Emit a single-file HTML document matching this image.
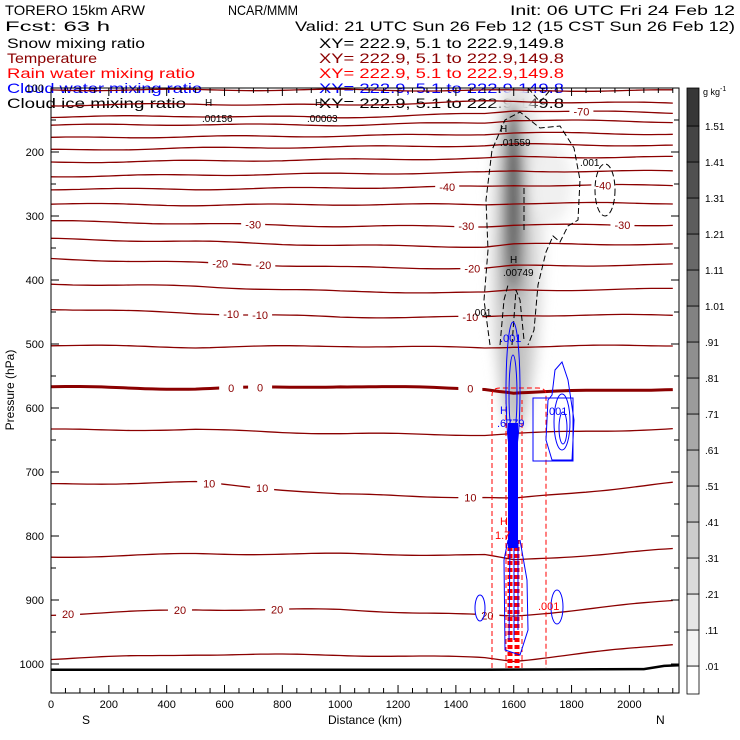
<!DOCTYPE html>
<html><head><meta charset="utf-8">
<style>
body{margin:0;background:#fff;width:740px;height:740px;overflow:hidden}
svg{display:block}
text{font-family:"Liberation Sans",sans-serif}
.h{font-size:14px}
</style></head>
<body>
<svg id="chart" width="740" height="740" viewBox="0 0 740 740" xmlns="http://www.w3.org/2000/svg">
<defs>
<filter id="blur6" x="-50%" y="-50%" width="200%" height="200%"><feGaussianBlur stdDeviation="6"/></filter>
<clipPath id="plotclip"><rect x="51" y="88" width="628" height="605"/></clipPath>
</defs>
<g>
<text class="h" x="5" y="15" textLength="140" lengthAdjust="spacingAndGlyphs">TORERO  15km ARW</text>
<text class="h" x="228" y="15" textLength="70" lengthAdjust="spacingAndGlyphs">NCAR/MMM</text>
<text class="h" x="510" y="15" textLength="225" lengthAdjust="spacingAndGlyphs">Init: 06 UTC Fri 24 Feb 12</text>
<text class="h" x="5" y="31" textLength="105" lengthAdjust="spacingAndGlyphs">Fcst:    63 h</text>
<text class="h" x="295" y="31" textLength="440" lengthAdjust="spacingAndGlyphs">Valid: 21 UTC Sun 26 Feb 12 (15 CST Sun 26 Feb 12)</text>
<text class="h" x="7" y="48" textLength="138" lengthAdjust="spacingAndGlyphs" fill="#000">Snow mixing ratio</text>
<text class="h" x="319" y="48" textLength="245" lengthAdjust="spacingAndGlyphs" fill="#000">XY= 222.9,   5.1 to 222.9,149.8</text>
<text class="h" x="7" y="63" textLength="90" lengthAdjust="spacingAndGlyphs" fill="#8b0000">Temperature</text>
<text class="h" x="319" y="63" textLength="245" lengthAdjust="spacingAndGlyphs" fill="#8b0000">XY= 222.9,   5.1 to 222.9,149.8</text>
<text class="h" x="7" y="78" textLength="188" lengthAdjust="spacingAndGlyphs" fill="#ff0000">Rain water mixing ratio</text>
<text class="h" x="319" y="78" textLength="245" lengthAdjust="spacingAndGlyphs" fill="#ff0000">XY= 222.9,   5.1 to 222.9,149.8</text>
<text class="h" x="7" y="93" textLength="195" lengthAdjust="spacingAndGlyphs" fill="#0000ff">Cloud water mixing ratio</text>
<text class="h" x="319" y="93" textLength="245" lengthAdjust="spacingAndGlyphs" fill="#0000ff">XY= 222.9,   5.1 to 222.9,149.8</text>
<text class="h" x="7" y="108" textLength="179" lengthAdjust="spacingAndGlyphs" fill="#000">Cloud ice mixing ratio</text>
<text class="h" x="319" y="108" textLength="245" lengthAdjust="spacingAndGlyphs" fill="#000">XY= 222.9,   5.1 to 222.9,149.8</text>
</g>
<g id="plot" clip-path="url(#plotclip)"></g>
<g id="axes"></g>
<g id="cbar"></g>
</svg>
<script>
const NS="http://www.w3.org/2000/svg";
// ---- data ----
const distSamples=[0,500,1000,1500,1600,2170];
const tempLevels=[-80,-75,-70,-65,-60,-55,-50,-45,-40,-35,-30,-25,-20,-15,-10,-5,0,5,10,15,20,25];
const tempPres=[
[103,103,103,104,104,104],
[127,125,127,121,121,124],
[145,144,146,140,135,139],
[158,157,158,154,150,153],
[178,176,175,172,170,172],
[197,194,192,190,188,190],
[216,214,212,210,208,208],
[238,236,234,232,230,230],
[258,258,256,254,252,252],
[281,283,282,282,280,280],
[308,312,316,316,314,314],
[336,340,346,348,344,344],
[367,373,380,382,378,376],
[406,410,418,420,416,414],
[445,452,458,458,455,455],
[502,505,503,506,504,502],
[567,570,566,570,576,570],
[634,634,640,642,640,632],
[719,716,735,740,742,716],
[833,828,828,830,838,820],
[923,915,915,924,925,900],
[992,985,986,990,995,968]];
const tempLabels=[[-70,1834],[-40,1370],[-40,1910],[-30,699],[-30,1436],[-30,1976],[-20,585],[-20,734],[-20,1457],[-10,623],[-10,723],[-10,1450],[0,623],[0,723],[0,1450],[10,547],[10,730],[10,1450],[20,59],[20,446],[20,782],[20,1509]];
const xTicks=[0,200,400,600,800,1000,1200,1400,1600,1800,2000];
const yTicks=[200,300,400,500,600,700,800,900,1000];
const cbarLevels=[".01",".11",".21",".31",".41",".51",".61",".71",".81",".91","1.01","1.11","1.21","1.31","1.41","1.51"];
const groundDist=[0,1500,2050,2120,2170];
const groundPres=[1009,1009,1008,1003,1002];
// ---- scales ----
const X=km=>51+km*0.2892;
const Y=p=>88+(p-100)*0.64;
function el(tag,attrs,parent){const e=document.createElementNS(NS,tag);for(const k in attrs)e.setAttribute(k,attrs[k]);parent.appendChild(e);return e;}
const plot=document.getElementById('plot'),axes=document.getElementById('axes'),cbar=document.getElementById('cbar');
function interp(arr,km){for(let i=0;i<distSamples.length-1;i++){if(km<=distSamples[i+1]){const t=(km-distSamples[i])/(distSamples[i+1]-distSamples[i]);return arr[i]+t*(arr[i+1]-arr[i]);}}return arr[arr.length-1];}

// snow plume (gray)
const plume=el('g',{filter:'url(#blur6)'},plot);


el('ellipse',{cx:X(1610),cy:Y(340),rx:28,ry:175,fill:'#e6e6e6'},plume);
el('ellipse',{cx:X(1605),cy:Y(440),rx:20,ry:130,fill:'#d0d0d0'},plume);
el('ellipse',{cx:X(1598),cy:Y(300),rx:13,ry:115,fill:'#9a9a9a'},plume);
el('ellipse',{cx:X(1598),cy:Y(270),rx:6,ry:90,fill:'#555'},plume);
el('ellipse',{cx:X(1602),cy:Y(520),rx:10,ry:70,fill:'#bdbdbd'},plume);
el('ellipse',{cx:X(1730),cy:Y(250),rx:20,ry:40,fill:'#f0f0f0'},plume);

// temperature contours
tempLevels.forEach((lv,i)=>{
  let d='';
  for(let km=0;km<=2172;km+=25){const y=Y(interp(tempPres[i],km)+1.2*Math.sin(km/90+i));d+=(km?'L':'M')+X(km).toFixed(1)+','+y.toFixed(1);}
  const pth=el('path',{d:d,fill:'none',stroke:'#8b0000','stroke-width':lv===0?3:1.3},plot);
  
  
});
tempLabels.forEach(([lv,km])=>{
  const i=tempLevels.indexOf(lv);const y=Y(interp(tempPres[i],km));
  el('rect',{x:X(km)-12,y:y-6,width:24,height:12,fill:'#fff'},plot);
  const t=el('text',{x:X(km),y:y+4,'text-anchor':'middle','font-size':11,fill:'#8b0000'},plot);
  t.textContent=lv;
  
  
});

// cloud ice dashed contours
const ice=el('g',{fill:'none',stroke:'#000','stroke-width':1,'stroke-dasharray':'6,3'},plot);


el('path',{d:'M490,345 L484,300 L488,250 L486,200 L492,150 L505,120 L520,112 L540,128 L560,126 L574,148 L580,180 L578,220 L568,226 L560,242 L553,236 L546,252 L538,285 L534,330 L528,345'},ice);
el('path',{d:'M500,345 L504,300 L508,285 M512,345 L516,290 L520,300 L524,340'},ice);
el('path',{d:'M528,88 L540,102 L552,88'},ice);
el('ellipse',{cx:605,cy:190,rx:10,ry:26},ice);
el('line',{x1:524,y1:188,x2:524,y2:230},ice);
[['H',500,132],['.01559',500,146],['H',510,263],['.00749',503,276],['.001',472,316],['.001',580,166],['H',205,106],['.00156',202,122],['H',315,106],['.00003',307,122]].forEach(([s,x,y])=>{const t=el('text',{x:x,y:y,'font-size':10,fill:'#000'},plot);t.textContent=s;});

// rain water dashed red
const rain=el('g',{fill:'none',stroke:'#ff0000'},plot);


el('path',{d:'M492,668 L492,395 Q492,388 500,388 L538,388 Q546,388 546,395 L546,668','stroke-dasharray':'5,3','stroke-width':1},rain);
el('path',{d:'M506,668 L506,400 M522,668 L522,400','stroke-dasharray':'5,3','stroke-width':1},rain);
el('line',{x1:510,y1:540,x2:510,y2:668,'stroke-dasharray':'4,3','stroke-width':5},rain);
el('line',{x1:517,y1:540,x2:517,y2:668,'stroke-dasharray':'4,3','stroke-width':5},rain);

// cloud water blue
const cw=el('g',{fill:'none',stroke:'#0000ff','stroke-width':1},plot);


el('rect',{x:508,y:423,width:10,height:125,fill:'#0000ff',stroke:'none'},cw);
el('ellipse',{cx:513,cy:390,rx:7,ry:68},cw);
el('ellipse',{cx:513,cy:395,rx:4,ry:40},cw);
el('path',{d:'M508,540 L504,560 L505,650 L520,655 L528,630 L527,580 L520,540'},cw);
el('path',{d:'M510,540 L509,640 M514,540 L514,640 M518,540 L518,630'},cw);
el('path',{d:'M548,400 L546,440 L552,460 L572,460 L574,420 L568,380 L562,362 L555,370 L552,395 Z'},cw);
el('ellipse',{cx:562,cy:422,rx:8,ry:28},cw);
el('ellipse',{cx:563,cy:428,rx:4,ry:16},cw);
el('rect',{x:533,y:398,width:40,height:63},cw);
el('ellipse',{cx:480,cy:608,rx:5,ry:13},cw);
el('ellipse',{cx:557,cy:607,rx:6,ry:17},cw);
[['.001',500,342,'#0000ff'],['H',500,414,'#0000ff'],['.6779',497,427,'#0000ff'],['.001',546,415,'#0000ff'],['H',500,525,'#ff0000'],['1.7',495,539,'#ff0000'],['.001',538,610,'#ff0000']].forEach(([s,x,y,c])=>{const t=el('text',{x:x,y:y,'font-size':11,fill:c},plot);t.textContent=s;});

// ground
let gd='';groundDist.forEach((km,i)=>{gd+=(i?'L':'M')+X(km)+','+Y(groundPres[i]);});
const g=el('path',{d:gd,fill:'none',stroke:'#000','stroke-width':2.5},plot);



// axes frame
const fr=el('rect',{x:51,y:88,width:628,height:605,fill:'none',stroke:'#000','stroke-width':1},axes);


for(let km=0;km<=2150;km+=50){const maj=km%200===0,len=maj?8:5;
 el('line',{x1:X(km),y1:693,x2:X(km),y2:693-len,stroke:'#000'},axes);
 el('line',{x1:X(km),y1:88,x2:X(km),y2:88+len,stroke:'#000'},axes);}
for(let p=100;p<=1040;p+=50){const maj=p%100===0,len=maj?8:5;
 el('line',{x1:51,y1:Y(p),x2:51+len,y2:Y(p),stroke:'#000'},axes);
 el('line',{x1:679,y1:Y(p),x2:679-len,y2:Y(p),stroke:'#000'},axes);}
xTicks.forEach(v=>{const t=el('text',{x:X(v),y:708,'text-anchor':'middle','font-size':11},axes);t.textContent=v;});
yTicks.forEach(v=>{const t=el('text',{x:44,y:Y(v)+4,'text-anchor':'end','font-size':11},axes);t.textContent=v;});
const t100=el('text',{x:44,y:92,'text-anchor':'end','font-size':11},axes);t100.textContent='100';


const xt=el('text',{x:365,y:724,'text-anchor':'middle','font-size':12},axes);xt.textContent='Distance (km)';


const yt=el('text',{x:14,y:390,'text-anchor':'middle','font-size':12,transform:'rotate(-90 14 390)'},axes);yt.textContent='Pressure (hPa)';


const sS=el('text',{x:82,y:724,'font-size':12},axes);sS.textContent='S';


const sN=el('text',{x:656,y:724,'font-size':12},axes);sN.textContent='N';



// colorbar
const cbTop=88,cbBot=694,step=36,base=666;
const bins=cbarLevels.length+1;
for(let i=0;i<bins;i++){
  const y1=i===0?cbBot:base-(i-1)*step; const y0=i===bins-1?cbTop:base-i*step;
  const gv=Math.round(255-i*(255-55)/(bins-1));
  const r=el('rect',{x:687,y:y0,width:12,height:y1-y0,fill:`rgb(${gv},${gv},${gv})`,stroke:'#000','stroke-width':0.8},cbar);
  
  
}
cbarLevels.forEach((s,i)=>{const t=el('text',{x:705,y:base-i*step+4,'font-size':10},cbar);t.textContent=s;});
const un=el('text',{x:703,y:95,'font-size':9},cbar);un.innerHTML='g kg<tspan dy="-4" font-size="7">-1</tspan>';


</script>
</body></html>
